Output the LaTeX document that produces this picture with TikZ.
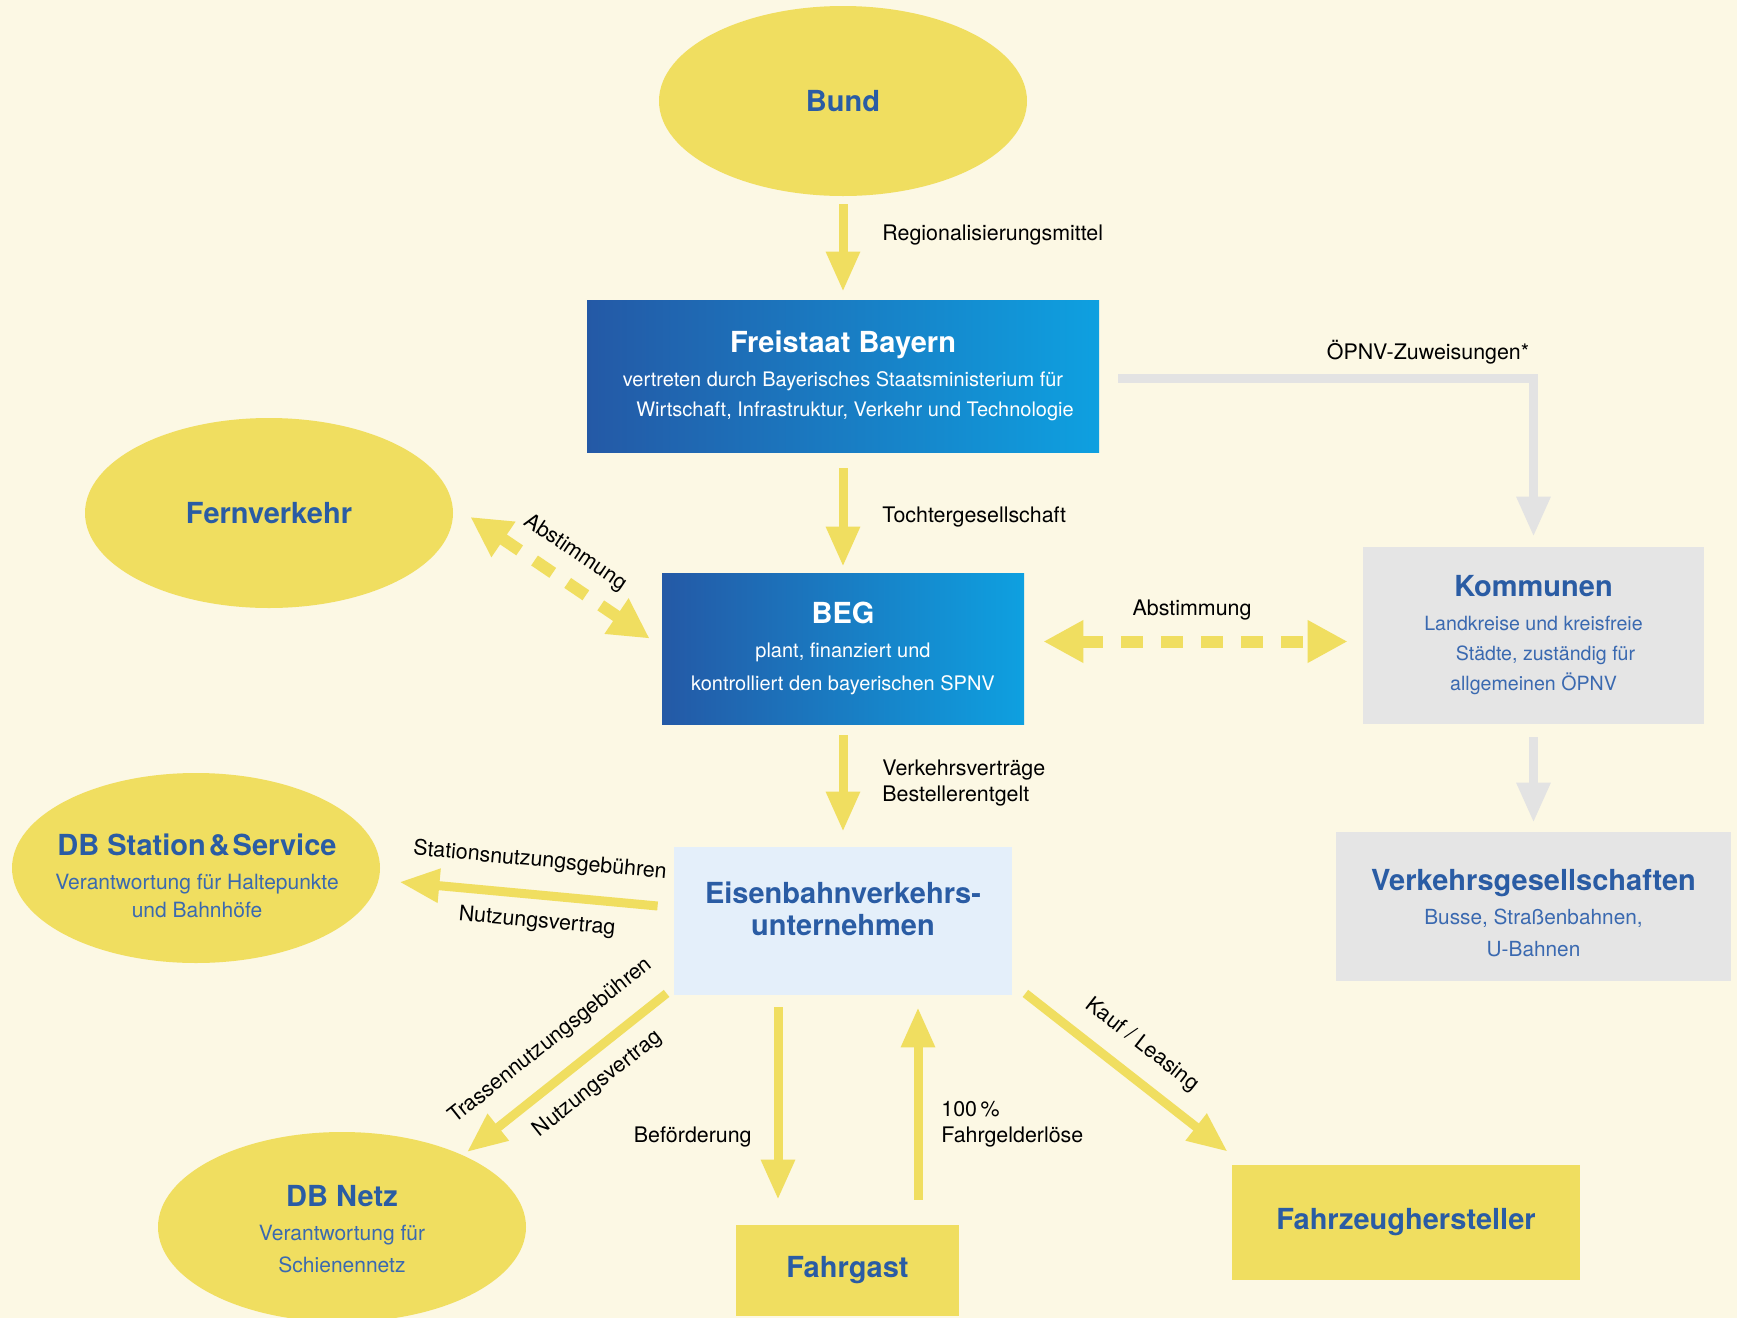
\documentclass[tikz,border=0pt]{standalone}
\usepackage{fontspec}
\setmainfont{TeX Gyre Heros}
\usetikzlibrary{shapes.geometric,arrows.meta,calc}
\definecolor{bg}{HTML}{FCF8E4}
\definecolor{ylw}{HTML}{F0DE60}
\definecolor{dkb}{HTML}{2459A6}
\definecolor{ltb}{HTML}{0EA0E0}
\definecolor{tblue}{HTML}{2A5CA4}
\definecolor{sblue}{HTML}{3A69B0}
\definecolor{gbox}{HTML}{E5E5E5}
\definecolor{garrow}{HTML}{E3E3E3}
\definecolor{evubg}{HTML}{E4EFFA}
\newcommand{\ttlfont}{\fontsize{14.5}{17}\selectfont\bfseries}
\newcommand{\subfont}{\fontsize{10}{15}\selectfont}
\tikzset{
  ell/.style={ellipse, fill=ylw, minimum width=184pt, minimum height=95pt, inner sep=0pt},
  boxnode/.style={rectangle, inner sep=0pt, align=center, font=\subfont},
  txt/.style={align=center, inner sep=0pt, font=\subfont, text=tblue},
  lbl/.style={font=\fontsize{10.7}{13}\selectfont, text=black, inner sep=0pt},
  arr/.style={draw=ylw, line width=4.5pt, -{Triangle[width=16pt,length=20pt]}},
  garr/.style={draw=garrow, line width=4.5pt, -{Triangle[width=16pt,length=20pt]}},
  darr/.style={draw=ylw, line width=6pt, dash pattern=on 11pt off 9pt,
     {Triangle[width=20pt,length=20pt]}-{Triangle[width=20pt,length=20pt]}},
}
\begin{document}
\begin{tikzpicture}[x=0.5pt,y=-0.5pt]
\useasboundingbox (0,0) rectangle (1737,1318);
\fill[bg] (0,0) rectangle (1737,1318);

% ---------- shapes ----------
\node[ell, text=tblue] (bund) at (843,101) {{\ttlfont Bund}};

\node[boxnode, minimum width=256pt, minimum height=76pt, left color=dkb, right color=ltb, text=white]
  (frei) at (843,376)
  {{\ttlfont Freistaat Bayern}\\[2pt]
   vertreten durch Bayerisches Staatsministerium für\\
   \hspace*{12pt}Wirtschaft, Infrastruktur, Verkehr und Technologie};

\node[ell, text=tblue] (fern) at (269,513) {{\ttlfont Fernverkehr}};

\node[boxnode, minimum width=181pt, minimum height=75.5pt, left color=dkb, right color=ltb, text=white]
  (beg) at (843,648.5)
  {{\ttlfont BEG}\\[2pt]
   plant, finanziert und\\[1.5pt]
   kontrolliert den bayerischen SPNV};

\node[boxnode, minimum width=170.5pt, minimum height=88.5pt, fill=gbox, text=sblue,
      font=\fontsize{9.8}{15}\selectfont]
  (komm) at (1533.5,635.5)
  {{\ttlfont\color{tblue} Kommunen}\\[2pt]
   Landkreise und kreisfreie\\
   \hspace*{12pt}Städte, zuständig für\\
   allgemeinen ÖPNV};

\node[boxnode, minimum width=197.5pt, minimum height=74.5pt, fill=gbox] (vg) at (1533.5,906.5) {};
\node[txt, text=sblue, font=\fontsize{10.4}{15}\selectfont] (vgt) at (1533.5,913)
  {{\ttlfont\color{tblue} Verkehrsgesellschaften}\\[2pt]
   Busse, Straßenbahnen,\\[1pt]
   U-Bahnen};

\node[boxnode, minimum width=169pt, minimum height=74pt, fill=evubg] (evu) at (843,921) {};
\node[txt] (evut) at (843,909) {{\ttlfont Eisenbahnverkehrs-}\\[1pt]{\ttlfont unternehmen}};

\node[ell] (dbs) at (196,868) {};
\node[txt, font=\fontsize{10.5}{14}\selectfont] (dbst) at (197,876)
  {{\ttlfont DB Station\hspace{1.5pt}\&\hspace{1.5pt}Service}\\[3pt]
   {\color{sblue}Verantwortung für Haltepunkte}\\
   {\color{sblue}und Bahnhöfe}};

\node[ell] (dbn) at (342,1227) {};
\node[txt, font=\fontsize{10.5}{16}\selectfont] (dbnt) at (342,1229)
  {{\ttlfont DB Netz}\\[1pt]
   {\color{sblue}Verantwortung für}\\
   {\color{sblue}Schienennetz}};

\node[boxnode, minimum width=111.5pt, minimum height=45.5pt, fill=ylw, text=tblue]
  (fg) at (847.5,1270.5) {{\ttlfont Fahrgast}};

\node[boxnode, minimum width=174pt, minimum height=57.5pt, fill=ylw, text=tblue]
  (fzh) at (1406,1222.5) {{\ttlfont Fahrzeughersteller}};

% ---------- connectors ----------
\draw[arr, shorten <=4pt, shorten >=4pt] (bund.south) -- (frei.north);
\draw[arr, shorten <=8pt, shorten >=3pt] (frei.south) -- (beg.north);
\draw[arr, shorten <=5.5pt, shorten >=7.5pt] (beg.south) -- (evu.north);
\draw[garr, shorten >=5pt] ($(frei.east)+(19,2)$) -| (komm.north);
\draw[garr, shorten <=6.5pt, shorten >=4.5pt] (komm.south) -- (vg.north);
\draw[darr] ($(beg.east)+(19,-7)$) -- ($(komm.west)+(-15,6)$);
\draw[darr] ($(fern.east)+(17,4)$) -- ($(beg.west)+(-12,-10)$);
\draw[arr] ($(evu.west)+(-16,-15)$) -- ($(dbs.east)+(19,14)$);
\draw[arr] ($(evu.south west)+(-7,-2)$) -- ($(dbn.center)+(125,-75)$);
\draw[arr] ($(evu.south)+(-65,12)$) -- ($(fg.north)+(-69.5,-25)$);
\draw[arr] ($(fg.north)+(70.5,-25)$) -- ($(evu.south)+(75,12)$);
\draw[arr] ($(evu.south east)+(13,-2)$) -- ($(fzh.north west)+(-4,-13)$);

% ---------- labels ----------
\node[lbl, anchor=west] (l1) at (882,235) {Regionalisierungsmittel};
\node[lbl, anchor=west] (l2) at (882,517) {Tochtergesellschaft};
\node[lbl, anchor=west, align=left] (l3) at (882,783) {Verkehrsverträge\\Bestellerentgelt};
\node[lbl] (l4) at (1428,352) {ÖPNV-Zuweisungen*};
\node[lbl] (l5) at (1192,610) {Abstimmung};
\node[lbl, rotate=-34] (l6) at (575,553) {Abstimmung};
\node[lbl, rotate=-5.3] (l7) at (540,861) {Stationsnutzungsgebühren};
\node[lbl, rotate=-5.3] (l8) at (537,922) {Nutzungsvertrag};
\node[lbl, rotate=38.5] (l9) at (551,1041) {Trassennutzungsgebühren};
\node[lbl, rotate=38.5] (l10) at (598,1084) {Nutzungsvertrag};
\node[lbl, anchor=east] (l11) at (752,1137) {Beförderung};
\node[lbl, anchor=west, align=left] (l12) at (941,1124) {100\,\%\\Fahrgelderlöse};
\node[lbl, rotate=-38] (l13) at (1142,1045) {Kauf / Leasing};
\end{tikzpicture}
\end{document}
